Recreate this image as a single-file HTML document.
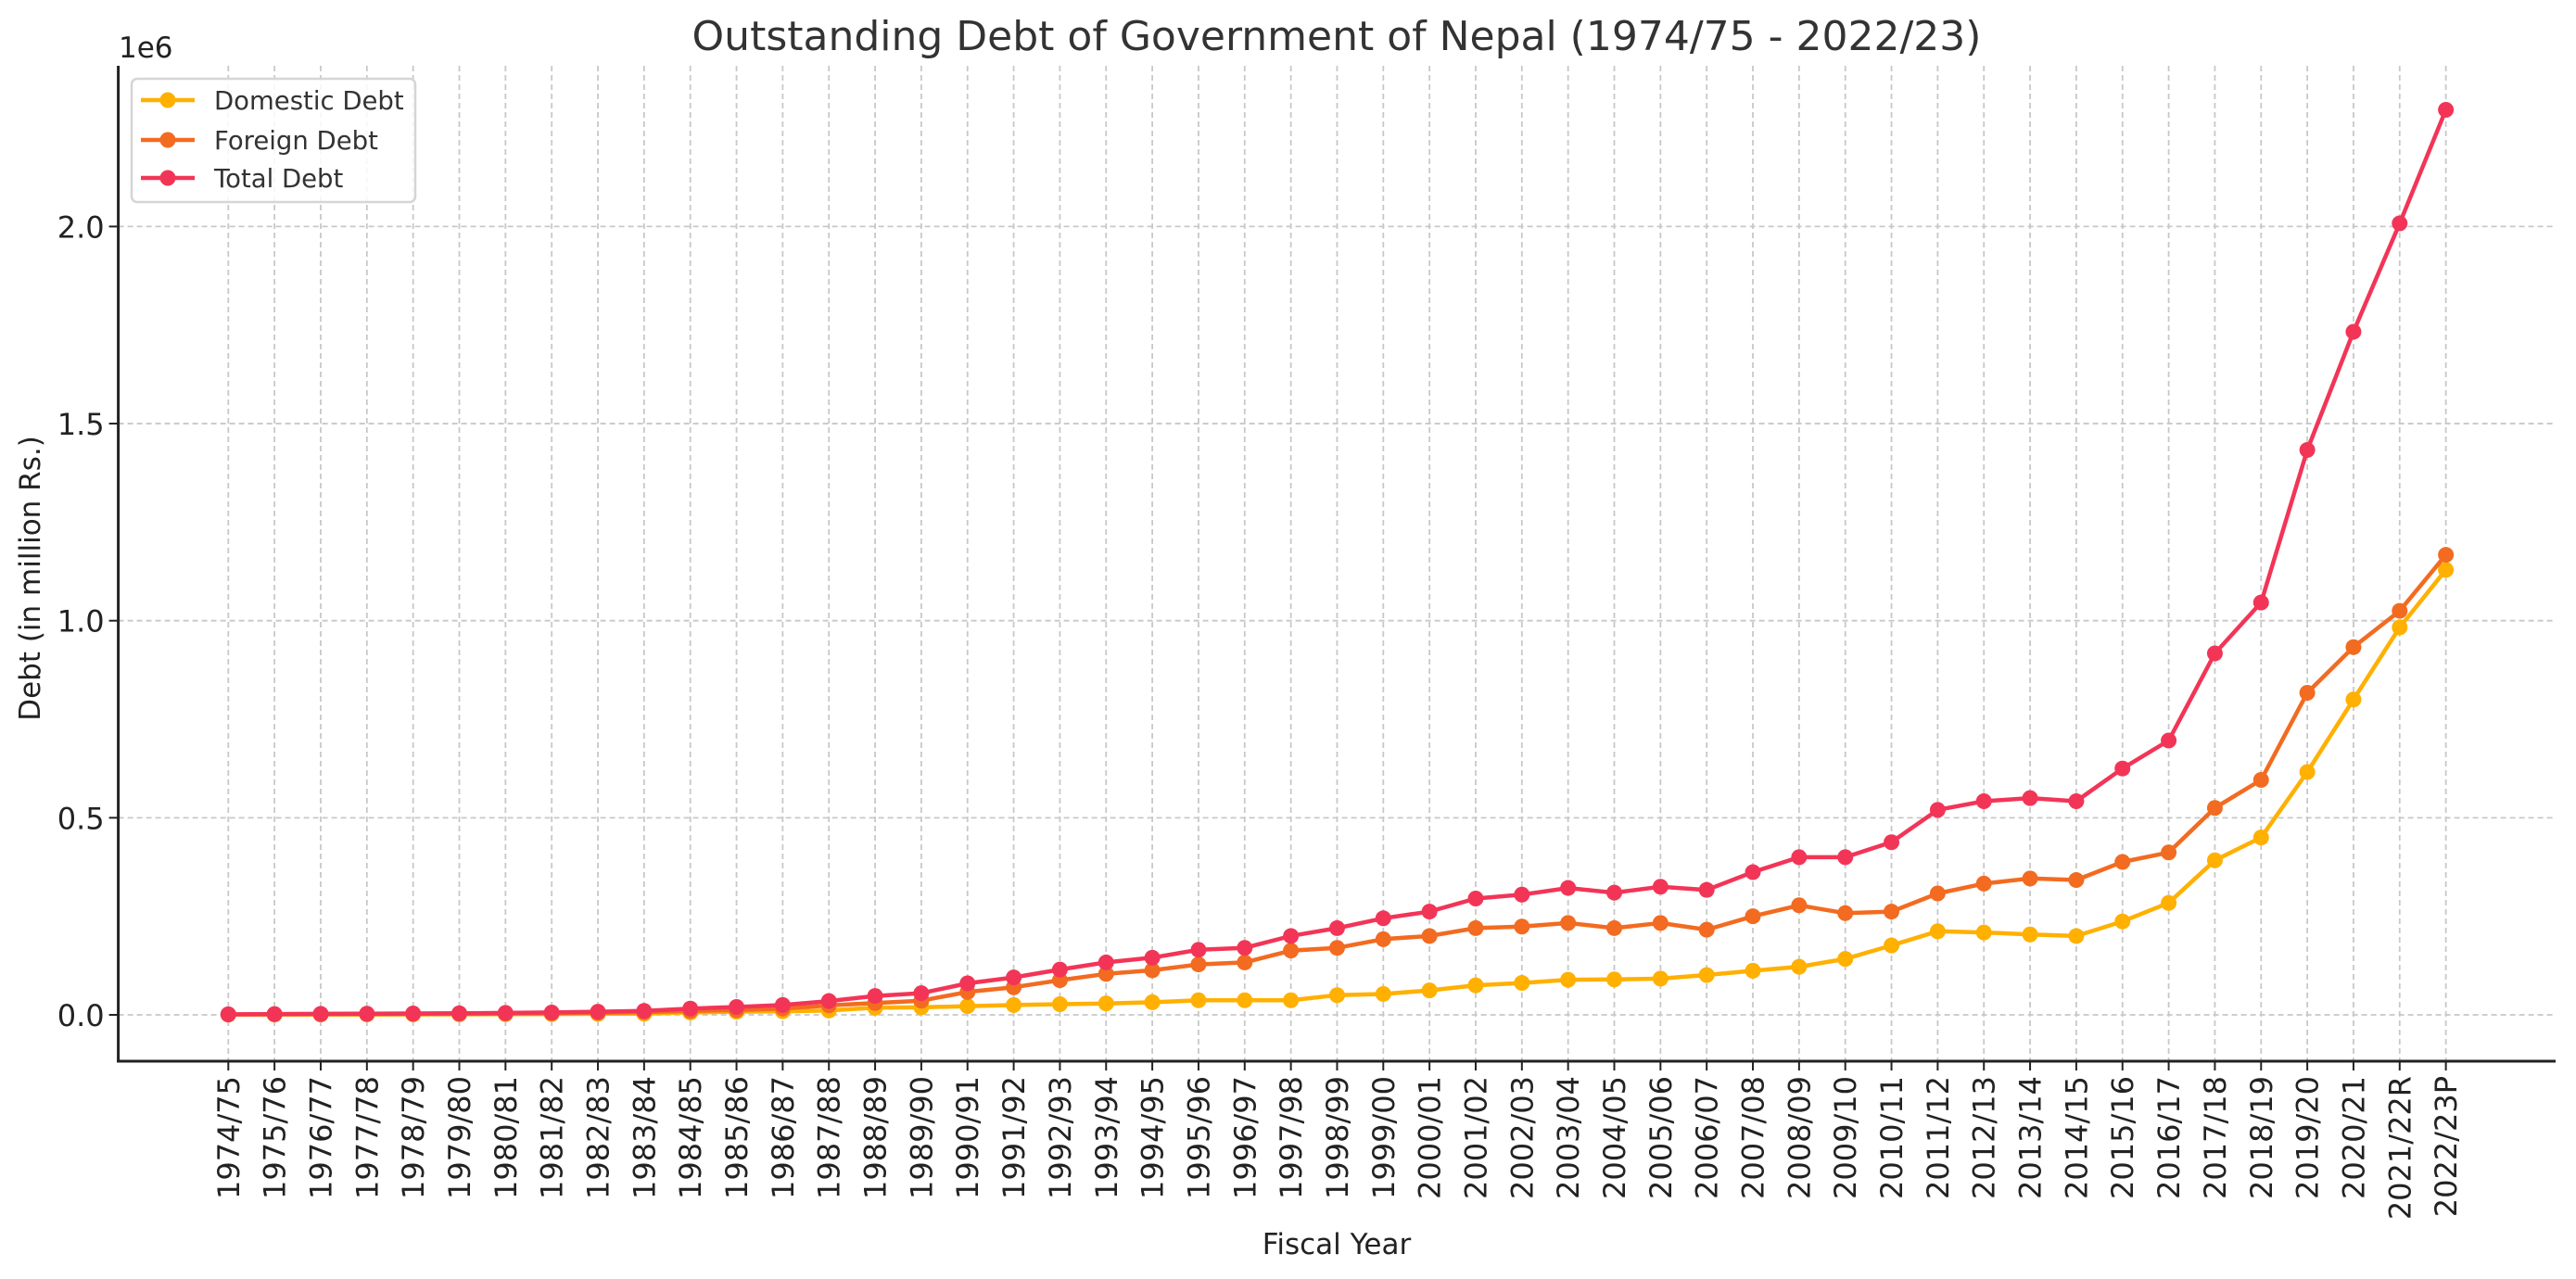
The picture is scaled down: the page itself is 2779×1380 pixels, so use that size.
<!DOCTYPE html>
<html><head><meta charset="utf-8"><style>
html,body{margin:0;padding:0;background:#fff}
svg{display:block;font-family:"DejaVu Sans","Liberation Sans",sans-serif}
</style></head><body>
<svg id="c" width="2779" height="1380" viewBox="0 0 2779 1380" xmlns="http://www.w3.org/2000/svg">
<text x="1442" y="54" font-size="44" fill="#333" text-anchor="middle">Outstanding Debt of Government of Nepal (1974/75 - 2022/23)</text>
<text x="128" y="62" font-size="31" fill="#222">1e6</text>
<text transform="translate(43,624) rotate(-90)" font-size="31" fill="#222" text-anchor="middle">Debt (in million Rs.)</text>
<text x="1442" y="1353" font-size="31" fill="#222" text-anchor="middle">Fiscal Year</text>
<g id="grid"></g>
<g id="series"></g>
<g id="axes"></g>
<g id="legend">
<rect x="142" y="85" width="306" height="133" rx="6" fill="#fff" fill-opacity="0.85" stroke="#d5d5d5" stroke-width="2.5"/>
<line x1="152" y1="108" x2="210" y2="108" stroke="#FFB000" stroke-width="4.5"/><circle cx="181" cy="108" r="8.5" fill="#FFB000"/>
<text x="231" y="118" font-size="27.5" fill="#333">Domestic Debt</text>
<line x1="152" y1="151" x2="210" y2="151" stroke="#F26B21" stroke-width="4.5"/><circle cx="181" cy="151" r="8.5" fill="#F26B21"/>
<text x="231" y="161" font-size="27.5" fill="#333">Foreign Debt</text>
<line x1="152" y1="192" x2="210" y2="192" stroke="#F23557" stroke-width="4.5"/><circle cx="181" cy="192" r="8.5" fill="#F23557"/>
<text x="231" y="202" font-size="27.5" fill="#333">Total Debt</text>
</g>
</svg>
<script>
(function(){
var NS="http://www.w3.org/2000/svg";
function el(p,t,a,txt){var e=document.createElementNS(NS,t);for(var k in a)e.setAttribute(k,a[k]);if(txt!=null)e.textContent=txt;p.appendChild(e);return e;}
var labels=[];
for(var y=1974;y<=2022;y++){var s=String(y)+"/"+String((y+1)%100).padStart(2,"0");labels.push(s);}
labels[47]="2021/22R";labels[48]="2022/23P";
var total=[0.0015,0.002,0.0025,0.003,0.0035,0.004,0.005,0.006,0.008,0.010,0.016,0.02,0.025,0.035,0.048,0.055,0.08,0.095,0.115,0.133,0.145,0.165,0.17,0.2,0.22,0.245,0.262,0.295,0.305,0.322,0.31,0.325,0.317,0.362,0.4,0.4,0.438,0.52,0.542,0.55,0.542,0.625,0.696,0.917,1.046,1.433,1.733,2.008,2.296];
var foreign=[0.001,0.0013,0.0016,0.002,0.0023,0.0027,0.0033,0.004,0.0055,0.007,0.01,0.012,0.016,0.024,0.03,0.036,0.058,0.07,0.088,0.104,0.113,0.128,0.133,0.163,0.17,0.192,0.2,0.22,0.224,0.233,0.22,0.233,0.216,0.25,0.278,0.258,0.262,0.308,0.333,0.346,0.342,0.388,0.412,0.525,0.596,0.817,0.933,1.025,1.167];
var dom=total.map(function(v,i){return v-foreign[i];});
var L=127.6,R=2757,T=71,B=1145,Y0=1095,K=425.3,X0=246.3,DX=49.84;
function X(i){return X0+i*DX;} function Yv(v){return Y0-v*K;}
var g=document.getElementById("grid"),a=document.getElementById("axes"),s=document.getElementById("series");
for(var i=0;i<49;i++){
 el(g,"line",{x1:X(i),y1:T,x2:X(i),y2:B,stroke:"#c8c8c8","stroke-width":1.8,"stroke-dasharray":"6,4"});
 el(a,"line",{x1:X(i),y1:B,x2:X(i),y2:B+10,stroke:"#222","stroke-width":2});
 el(a,"text",{transform:"translate("+(X(i)+11.5)+",1161) rotate(-90)","font-size":32,fill:"#222","text-anchor":"end"},labels[i]);
}
var yt=[0,0.5,1,1.5,2],yl=["0.0","0.5","1.0","1.5","2.0"];
for(var j=0;j<5;j++){
 el(g,"line",{x1:L,y1:Yv(yt[j]),x2:R,y2:Yv(yt[j]),stroke:"#c8c8c8","stroke-width":1.8,"stroke-dasharray":"6,4"});
 el(a,"line",{x1:L-10,y1:Yv(yt[j]),x2:L,y2:Yv(yt[j]),stroke:"#222","stroke-width":2});
 el(a,"text",{x:L-15,y:Yv(yt[j])+12,"font-size":32,fill:"#222","text-anchor":"end"},yl[j]);
}
el(a,"line",{x1:L,y1:T,x2:L,y2:B+1.5,stroke:"#222","stroke-width":3});
el(a,"line",{x1:L-1.5,y1:B,x2:R,y2:B,stroke:"#222","stroke-width":3});
function draw(d,c){
 var pts=d.map(function(v,i){return X(i).toFixed(1)+","+Yv(v).toFixed(1);}).join(" ");
 el(s,"polyline",{points:pts,fill:"none",stroke:c,"stroke-width":4.5,"stroke-linejoin":"round"});
 d.forEach(function(v,i){el(s,"circle",{cx:X(i),cy:Yv(v),r:8.5,fill:c});});
}
draw(dom,"#FFB000");draw(foreign,"#F26B21");draw(total,"#F23557");
})();
</script>
</body></html>
